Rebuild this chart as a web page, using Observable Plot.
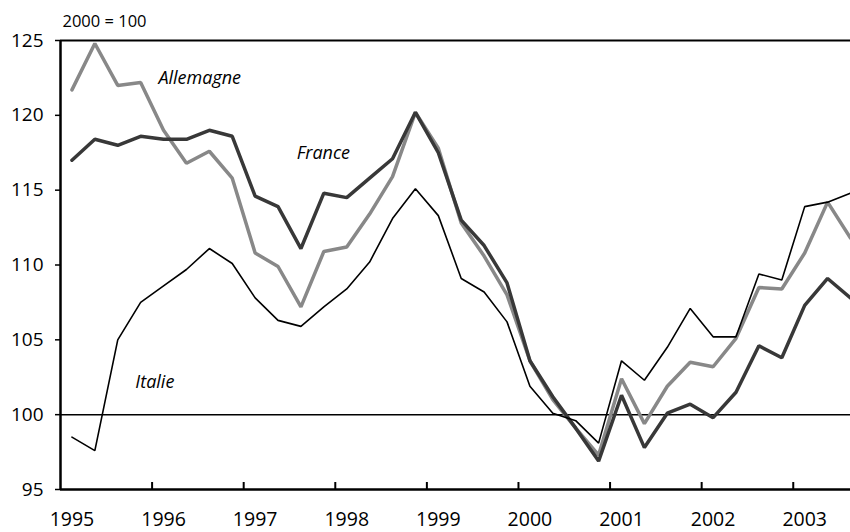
<!DOCTYPE html>
<html>
<head>
<meta charset="utf-8">
<script src="https://cdn.jsdelivr.net/npm/d3@7"></script>
<script src="https://cdn.jsdelivr.net/npm/@observablehq/plot@0.6"></script>
<style>
  html, body { margin: 0; padding: 0; background: #fff; }
  #chart { width: 850px; height: 532px; }
</style>
</head>
<body>
<div id="chart"></div>
<script>
// Quarterly index, 2000 = 100, from 1995 Q1 to 2003 Q3
const startYear = 1995;
const allemagne = [121.7,124.8,122.0,122.2,119.0,116.8,117.6,115.8,110.8,109.9,107.2,110.9,111.2,113.4,115.9,120.2,117.8,112.8,110.6,108.0,103.6,101.0,99.1,97.3,102.4,99.4,101.9,103.5,103.2,105.1,108.5,108.4,110.8,114.2,111.8];
const france    = [117.0,118.4,118.0,118.6,118.4,118.4,119.0,118.6,114.6,113.9,111.1,114.8,114.5,115.8,117.1,120.2,117.5,113.0,111.3,108.8,103.6,101.2,99.1,96.9,101.3,97.8,100.1,100.7,99.8,101.5,104.6,103.8,107.3,109.1,107.8];
const italie    = [98.5,97.6,105.0,107.5,108.6,109.7,111.1,110.1,107.8,106.3,105.9,107.2,108.4,110.2,113.1,115.1,113.3,109.1,108.2,106.2,101.9,100.1,99.6,98.1,103.6,102.3,104.5,107.1,105.2,105.2,109.4,109.0,113.9,114.2,114.8];
const yearTicks = [1996,1997,1998,1999,2000,2001,2002,2003];
const yearLabels = [1995,1996,1997,1998,1999,2000,2001,2002,2003];
const yTicks = [95,100,105,110,115,120,125];
const seriesLabels = [
  {name: "Allemagne", t: 1996.52, v: 122.5},
  {name: "France", t: 1997.87, v: 117.45},
  {name: "Italie", t: 1996.03, v: 102.2}
];

const toRows = (arr, name) => arr.map((v, i) => ({t: startYear + (i + 0.5) / 4, v, name}));
const rowsA = toRows(allemagne, "Allemagne");
const rowsF = toRows(france, "France");
const rowsI = toRows(italie, "Italie");

const chart = Plot.plot({
  width: 850,
  height: 532,
  marginLeft: 60,
  marginRight: 0,
  marginTop: 40,
  marginBottom: 43,
  x: {domain: [1995, 2003.625]},
  y: {domain: [95, 125]},
  style: {fontFamily: "'Open Sans', sans-serif", fontSize: "19px", color: "#000", background: "#fff", overflow: "visible"},
  marks: [
    Plot.ruleY([100], {stroke: "#000", strokeWidth: 1.5}),
    Plot.line(rowsA, {x: "t", y: "v", stroke: "#888888", strokeWidth: 3.5, strokeLinejoin: "miter"}),
    Plot.line(rowsF, {x: "t", y: "v", stroke: "#383838", strokeWidth: 3.5, strokeLinejoin: "miter"}),
    Plot.line(rowsI, {x: "t", y: "v", stroke: "#000", strokeWidth: 1.6, strokeLinejoin: "miter"}),
    Plot.ruleY([125], {stroke: "#000", strokeWidth: 2}),
    Plot.ruleY([95], {stroke: "#000", strokeWidth: 2.5}),
    Plot.ruleX([1995], {stroke: "#000", strokeWidth: 2.5}),
    Plot.axisY({ticks: yTicks, tickSize: 5, tickPadding: 12, fontSize: 19, tickFormat: d => String(d), label: null, strokeWidth: 1.5}),
    Plot.axisX({ticks: yearTicks, tickSize: -7, tickFormat: () => "", label: null, strokeWidth: 2}),
    Plot.axisX({ticks: yearLabels.map(y => y + 0.125), tickSize: 0, tickPadding: 23, fontSize: 19.5, tickFormat: d => String(Math.floor(d)), label: null}),
    Plot.text(["2000 = 100"], {frameAnchor: "top-left", dx: 2, dy: -19, textAnchor: "start", lineAnchor: "middle", fontSize: 16.5}),
    Plot.text(seriesLabels, {x: "t", y: "v", text: "name", fontStyle: "italic", fontSize: 18})
  ]
});
document.getElementById("chart").appendChild(chart);
</script>
</body>
</html>
